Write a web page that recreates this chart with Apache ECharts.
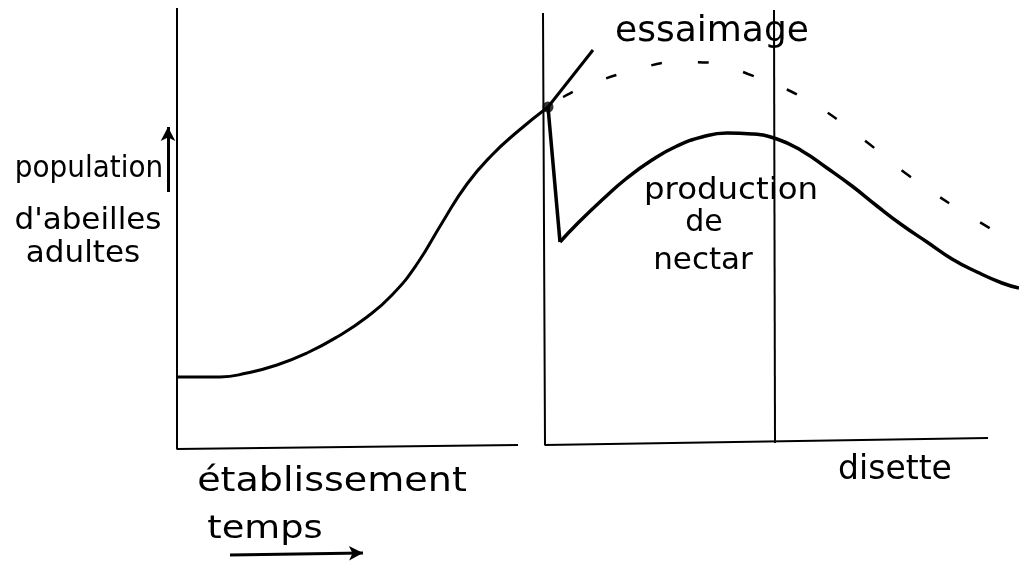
<!DOCTYPE html>
<html>
<head>
	<meta http-equiv="Content-Type" content="text/html; charset=utf-8" />
	<title>essaimage</title>
	<style>
		html,body{margin:0;padding:0;background:#fff;}
		#main{width:1019px;height:565px;}
	</style>
</head>
<body>
	<div id="main"></div>
	<script src="https://cdn.jsdelivr.net/npm/echarts@6/dist/echarts.min.js"></script>
	<script type="text/javascript">
		// unites du croquis : t = temps depuis l'origine, v = hauteur au-dessus de l'axe
		var populationT = [0, 43, 70, 100, 130, 160, 190, 215, 240, 265, 290, 315, 340, 371];
		var populationV = [71, 71, 75, 83, 95, 111, 131, 153, 184, 225, 264, 293, 316, 341];

		var essaimT = [371, 416];
		var essaimV = [341, 398];

		var chuteT = [371, 383];
		var chuteV = [341, 206];

		var nectarT = [383, 400, 425, 450, 475, 500, 525, 550, 575, 600, 625, 650, 675, 700, 725, 750, 775, 800, 825, 842];
		var nectarV = [206, 224, 248, 270, 288, 302, 311, 315, 314, 309, 297, 280, 262, 242, 223, 206, 189, 176, 165, 160];

		var sansEssaimT = [371, 388, 411, 457, 500, 539, 571, 611, 648, 691, 731, 778, 816];
		var sansEssaimV = [341, 352, 363, 378, 386, 385, 374, 358, 337, 305, 273, 241, 218];

		// traits du cadre (axes dessines a la main)
		var cadre = [
			[[0, 440], [0, -1], [341, 3]],
			[[366, 435], [368, 3], [811, 10]],
			[[597, 438], [598, 5]]
		];

		function pts(t, v){
			return t.map(function(x, i){ return [x, v[i]]; });
		}

		var chart = echarts.init(document.getElementById('main'));
		var black = '#000';
		var series = [];

		cadre.forEach(function(seg){
			series.push({
				type: 'line', data: seg, symbol: 'none', silent: true,
				lineStyle: {color: black, width: 2}
			});
		});

		series.push({
			type: 'line', data: pts(populationT, populationV), smooth: 0.5,
			symbol: 'none',
			lineStyle: {color: black, width: 3},
			markLine: {
				silent: true, symbol: ['none', 'arrow'], symbolSize: [11, 14],
				label: {show: false},
				lineStyle: {color: black, width: 3, type: 'solid'},
				data: [
					[{coord: [-9, 256]}, {coord: [-9, 321]}],
					[{coord: [53, -107]}, {coord: [186, -105]}]
				]
			}
		});
		series.push({
			type: 'line', data: pts(essaimT, essaimV), symbol: 'none',
			lineStyle: {color: black, width: 3}
		});
		series.push({
			type: 'line', data: pts(chuteT, chuteV), symbol: 'none',
			lineStyle: {color: black, width: 3.5}
		});
		series.push({
			type: 'line', data: pts(nectarT, nectarV), smooth: 0.5,
			symbol: 'none',
			lineStyle: {color: black, width: 3.5}
		});
		series.push({
			type: 'line', data: pts(sansEssaimT, sansEssaimV), smooth: 0.4,
			symbol: 'none',
			lineStyle: {color: black, width: 2.5, type: [11, 36], dashOffset: -18}
		});
		series.push({
			type: 'scatter', data: [[essaimT[0], essaimV[0]]], symbolSize: 11,
			itemStyle: {color: black}
		});

		function txt(s, x, y, fs, sx){
			return {
				type: 'text', x: x, y: y, silent: true, scaleX: sx || 1,
				style: {
					text: s, fill: black,
					font: 'normal ' + fs + 'px "DejaVu Sans"',
					textAlign: 'center', textVerticalAlign: 'middle',
					align: 'center', verticalAlign: 'middle'
				}
			};
		}

		chart.setOption({
			animation: false,
			backgroundColor: '#fff',
			grid: {left: 0, right: 0, top: 0, bottom: 0},
			xAxis: {type: 'value', min: -177, max: 842, show: false},
			yAxis: {type: 'value', min: -117, max: 448, show: false},
			series: series,
			graphic: [
				txt('essaimage', 712, 32, 36),
				txt('population', 89, 169, 30, 0.93),
				txt("d'abeilles", 88, 221, 31),
				txt('adultes', 83, 254, 31),
				txt('production', 731, 191, 30, 1.08),
				txt('de', 704, 223, 30),
				txt('nectar', 703, 261, 31),
				txt('établissement', 332, 482, 34, 1.12),
				txt('temps', 265, 530, 32, 1.15),
				txt('disette', 895, 470, 33)
			]
		});
	</script>
</body>
</html>
